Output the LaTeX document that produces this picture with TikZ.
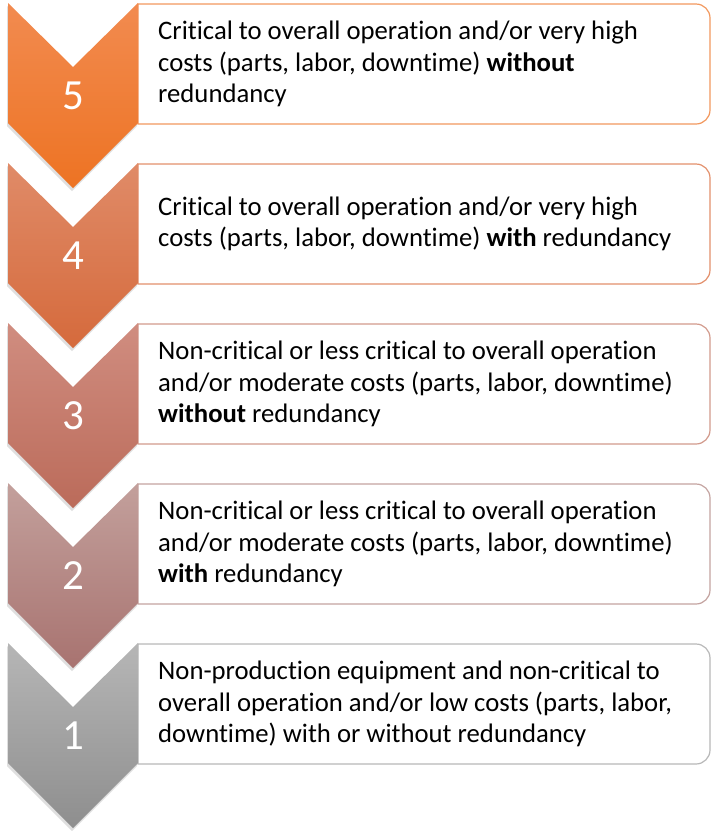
\documentclass[tikz,border=0pt]{standalone}
\usepackage{fontspec}
\setmainfont[Ligatures=NoCommon]{Carlito}
\usetikzlibrary{shadows}
\definecolor{c5t}{HTML}{F28B50}\definecolor{c5b}{HTML}{ED7323}\definecolor{c5f}{HTML}{F2985E}
\definecolor{c4t}{HTML}{E08B68}\definecolor{c4b}{HTML}{D56A3C}\definecolor{c4f}{HTML}{E3906C}
\definecolor{c3t}{HTML}{D08D80}\definecolor{c3b}{HTML}{BB6B5A}\definecolor{c3f}{HTML}{D29A8C}
\definecolor{c2t}{HTML}{C3A09C}\definecolor{c2b}{HTML}{A87370}\definecolor{c2f}{HTML}{C4A3A0}
\definecolor{c1t}{HTML}{B6B6B6}\definecolor{c1b}{HTML}{8E8E8E}\definecolor{c1f}{HTML}{B8B8B8}
\newcommand\mylevel[6]{%
  \draw[frame, draw=#5] (138,#2+1) [rounded corners=14pt] -- (710,#2+1) -- (710,#2+121) [sharp corners] -- (138,#2+121) -- cycle;
  \path[chev, top color=#3, bottom color=#4] (8,#2) -- (73,#2+64) -- (138,#2) -- (138,#2+120) -- (73,#2+185) -- (8,#2+120) -- cycle;
  \node[numtxt] (n#1) at (73.5,#2+92.5) {#1};
  \node[boxtxt] (t#1) at (158,#2+61) {#6};
}
\begin{document}
\begin{tikzpicture}[x=1pt,y=-1pt,
  boxtxt/.style={anchor=west, align=left, font=\fontsize{26.7}{31.7}\selectfont, text=black, inner sep=0pt},
  numtxt/.style={font=\fontsize{43}{43}\selectfont, text=white, inner sep=0pt},
  chev/.style={drop shadow={opacity=0.25, shadow xshift=-1pt, shadow yshift=-3pt}},
  frame/.style={line width=1.2pt, fill=white}]
\useasboundingbox (0,0) rectangle (713,831);
\mylevel{5}{3}{c5t}{c5b}{c5f}{Critical to overall operation and/or very high\\costs (parts, labor, downtime) \textbf{without}\\redundancy}
\mylevel{4}{163}{c4t}{c4b}{c4f}{Critical to overall operation and/or very high\\costs (parts, labor, downtime) \textbf{with} redundancy}
\mylevel{3}{323}{c3t}{c3b}{c3f}{Non-critical or less critical to overall operation\\and/or moderate costs (parts, labor, downtime)\\\textbf{without} redundancy}
\mylevel{2}{483}{c2t}{c2b}{c2f}{Non-critical or less critical to overall operation\\and/or moderate costs (parts, labor, downtime)\\\textbf{with} redundancy}
\mylevel{1}{643}{c1t}{c1b}{c1f}{Non-production equipment and non-critical to\\overall operation and/or low costs (parts, labor,\\downtime) with or without redundancy}
\end{tikzpicture}
\end{document}
